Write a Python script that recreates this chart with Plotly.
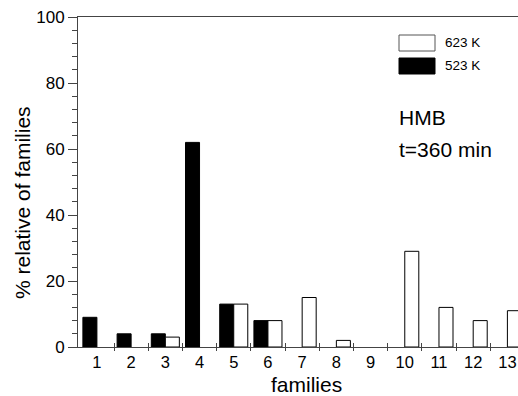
import plotly.graph_objects as go

families = list(range(1, 14))
series_523 = [9, 4, 4, 62, 13, 8, None, None, None, None, None, None, None]
series_623 = [None, None, 3, None, 13, 8, 15, 2, None, 29, 12, 8, 11]
legend_names = ["623 K", "523 K"]
y_ticks = [0, 20, 40, 60, 80, 100]

AX = "#444444"
FONT = "Liberation Sans, Arial, sans-serif"

fig = go.Figure()
fig.add_trace(go.Bar(x=families, y=series_523, name=legend_names[1],
                     marker=dict(color="black", line=dict(color="black", width=1))))
fig.add_trace(go.Bar(x=families, y=series_623, name=legend_names[0],
                     marker=dict(color="white", line=dict(color="black", width=1))))

bounds = [f + 0.5 for f in families[:-1]]
xr = [0.447, 13.31]

fig.update_layout(
    width=518, height=396,
    margin=dict(l=78, r=0, t=17, b=49),
    paper_bgcolor="white", plot_bgcolor="white",
    barmode="group", bargap=0.18, bargroupgap=0,
    showlegend=False,
    font=dict(family=FONT, color="black"),
    xaxis=dict(range=xr, tickmode="array", tickvals=families,
               ticktext=[str(f) for f in families], ticks="", ticklen=0,
               showgrid=False, zeroline=False, showline=True, linecolor=AX, linewidth=1,
               mirror=True, tickfont=dict(size=16.5, family=FONT),
               minor=dict(tickmode="array", tickvals=bounds, ticks="outside",
                          ticklen=3, tickcolor=AX, tickwidth=1, showgrid=False)),
    xaxis2=dict(range=xr, overlaying="x", side="bottom", showticklabels=False,
                showgrid=False, zeroline=False, showline=False,
                tickmode="array", tickvals=bounds, ticks="inside", ticklen=4,
                tickcolor=AX, tickwidth=1),
    yaxis=dict(range=[0, 100], tickmode="array", tickvals=y_ticks, ticks="outside",
               ticklen=9, tickcolor=AX, tickwidth=1, showgrid=False, zeroline=False,
               showline=True, linecolor=AX, linewidth=1,
               tickfont=dict(size=17, family=FONT),
               minor=dict(dtick=4, tick0=0, ticks="outside", ticklen=5,
                          tickcolor=AX, tickwidth=1, showgrid=False)),
)
# invisible trace to activate xaxis2
fig.add_trace(go.Scatter(x=[xr[0]], y=[0], xaxis="x2", mode="markers",
                         marker=dict(opacity=0), hoverinfo="skip", showlegend=False))

# legend drawn manually
fig.add_shape(type="rect", xref="paper", yref="paper",
              x0=(399 - 78) / 440, x1=(435 - 78) / 440,
              y0=(347 - 51) / 330, y1=(347 - 35) / 330,
              fillcolor="white", line=dict(color="#555555", width=1))
fig.add_shape(type="rect", xref="paper", yref="paper",
              x0=(399 - 78) / 440, x1=(435 - 78) / 440,
              y0=(347 - 74) / 330, y1=(347 - 58) / 330,
              fillcolor="black", line=dict(color="black", width=1))
fig.add_annotation(text=legend_names[0], xref="paper", yref="paper",
                   x=(443 - 78) / 440, y=(347 - 43) / 330, xanchor="left", yanchor="middle",
                   showarrow=False, font=dict(size=13.5, family=FONT))
fig.add_annotation(text=legend_names[1], xref="paper", yref="paper",
                   x=(443 - 78) / 440, y=(347 - 66) / 330, xanchor="left", yanchor="middle",
                   showarrow=False, font=dict(size=13.5, family=FONT))
fig.add_annotation(text="HMB", xref="paper", yref="paper",
                   x=(397 - 78) / 440, y=(347 - 118) / 330, xanchor="left", yanchor="middle",
                   showarrow=False, font=dict(size=21, family=FONT))
fig.add_annotation(text="t=360 min", xref="paper", yref="paper",
                   x=(397 - 78) / 440, y=(347 - 149) / 330, xanchor="left", yanchor="middle",
                   showarrow=False, font=dict(size=21, family=FONT))
# axis titles
fig.add_annotation(text="families", xref="paper", yref="paper",
                   x=(306 - 78) / 440, y=-(384 - 347) / 330, xanchor="center", yanchor="middle",
                   showarrow=False, font=dict(size=21, family=FONT))
fig.add_annotation(text="% relative of families", xref="paper", yref="paper",
                   x=-(78 - 22) / 440, y=(347 - 203) / 330, xanchor="center", yanchor="middle",
                   textangle=-90, showarrow=False, font=dict(size=21, family=FONT))

fig.write_html("out.html")
